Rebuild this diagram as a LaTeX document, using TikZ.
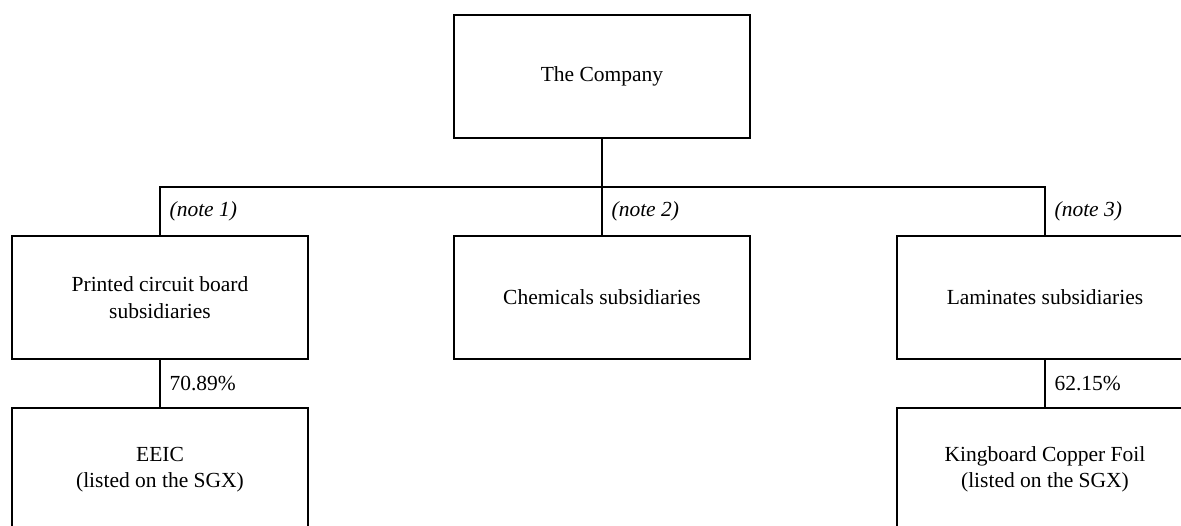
\documentclass[tikz,border=0pt]{standalone}
\usepackage{fontspec}
\setmainfont{Liberation Serif}
\begin{document}
\begin{tikzpicture}[x=1pt, y=-1pt,
  unit/.style={draw, line width=1.2pt, minimum width=296pt, minimum height=123pt,
    align=center, inner sep=0pt, font=\fontsize{21.5}{26.5}\selectfont},
  link/.style={line width=1.2pt},
  share/.style={right, inner sep=9pt, font=\fontsize{21.5}{26.5}\selectfont},
  note/.style={share, font=\fontsize{21.5}{26.5}\selectfont\itshape}]
  \useasboundingbox (0,0) rectangle (1181,525);
  \clip (0,0) rectangle (1181,525);
  % top holding company
  \node[unit] (company) at (602,76.5) {The Company};
  % first level
  \node[unit] (pcb) at (160,297.5) {Printed circuit board\\subsidiaries};
  \node[unit] (chem) at (602,297.5) {Chemicals subsidiaries};
  \node[unit] (lam) at (1045,297.5) {Laminates subsidiaries};
  % listed companies
  \node[unit] (eeic) at (160,469.5) {EEIC\\(listed on the SGX)};
  \node[unit] (kcf) at (1045,469.5) {Kingboard Copper Foil\\(listed on the SGX)};
  \coordinate (bus) at (602,187);
  \draw[link] (company) -- (bus);
  \draw[link] (pcb.north) -- node[note] {(note 1)} (pcb.north |- bus)
    -- (lam.north |- bus) -- node[note] {(note 3)} (lam.north);
  \draw[link] (bus) -- node[note] {(note 2)} (chem);
  \draw[link] (pcb) -- node[share] {70.89\%} (eeic);
  \draw[link] (lam) -- node[share] {62.15\%} (kcf);
\end{tikzpicture}
\end{document}
